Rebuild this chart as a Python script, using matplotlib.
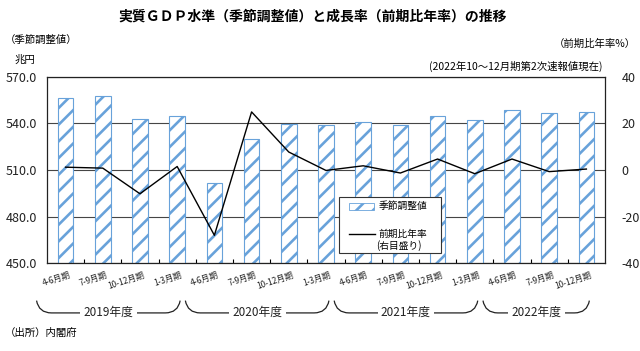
import matplotlib
matplotlib.use('Agg')
import matplotlib.pyplot as plt
import matplotlib.transforms as mtransforms
from matplotlib.patches import Rectangle, PathPatch
from matplotlib.path import Path
from matplotlib.lines import Line2D
import numpy as np

plt.rcParams['font.family'] = ['Noto Sans CJK JP', 'DejaVu Sans']
plt.rcParams['hatch.linewidth'] = 1.9
plt.rcParams['axes.unicode_minus'] = False

# ---- data ----
quarters = ['4-6月期', '7-9月期', '10-12月期', '1-3月期'] * 3 + ['4-6月期', '7-9月期', '10-12月期']
gdp_level = [556.1, 557.6, 542.8, 544.7, 501.5, 530.0, 539.4, 539.0,
             540.7, 539.0, 544.7, 542.0, 548.6, 546.5, 547.3]
growth_rate = [1.2, 0.8, -10.2, 1.5, -28.0, 24.9, 7.7, -0.2,
               1.8, -1.3, 4.7, -1.6, 4.7, -0.7, 0.4]
fiscal_years = ['2019年度', '2020年度', '2021年度', '2022年度']
fy_counts = [4, 4, 4, 3]
left_ticks = [450, 480, 510, 540, 570]
right_ticks = [-40, -20, 0, 20, 40]

BLUE = '#68a2da'

fig = plt.figure(figsize=(6.4, 3.51), dpi=100)
ax = fig.add_axes([0.0734, 0.2499, 0.8719, 0.5316])
x = np.arange(len(gdp_level))

ax.bar(x, gdp_level, width=0.42, color='white', edgecolor=BLUE,
       hatch='//', linewidth=0.8, zorder=2)
ax.set_xlim(-0.5, len(x) - 0.5)
ax.set_ylim(450, 570)
ax.set_yticks(left_ticks)
ax.set_yticklabels([f'{v:.1f}' for v in left_ticks])
ax.yaxis.grid(True, color='#454545', lw=0.8)
ax.set_axisbelow(True)
ax.tick_params(axis='y', length=0, pad=7, labelsize=9, colors='#222222')

ax.set_xticks(x)
ax.set_xticklabels(quarters, rotation=18, ha='right', va='top',
                   rotation_mode='anchor', fontsize=6, color='#222222')
ax.tick_params(axis='x', which='major', length=0, pad=5)
ax.set_xticks(np.arange(0.5, len(x) - 0.5, 1.0), minor=True)
ax.tick_params(axis='x', which='minor', direction='in', length=3, width=0.8)
off = mtransforms.ScaledTranslation(3 / 100, 0, fig.dpi_scale_trans)
for lab in ax.get_xticklabels():
    lab.set_transform(lab.get_transform() + off)

for s in ax.spines.values():
    s.set_color('#222222')
    s.set_linewidth(0.9)

ax2 = ax.twinx()
ax2.plot(x, growth_rate, color='black', lw=1.0, zorder=3)
ax2.set_ylim(-40, 40)
ax2.set_yticks(right_ticks)
ax2.set_yticklabels([str(v) for v in right_ticks])
ax2.tick_params(axis='y', length=0, pad=12, labelsize=9, colors='#222222')
for s in ax2.spines.values():
    s.set_visible(False)

# ---- legend (manual) ----
ax2.add_patch(Rectangle((0.524, 0.055), 0.182, 0.302, transform=ax2.transAxes,
                        facecolor='white', edgecolor='#333333', lw=0.8,
                        zorder=10, clip_on=False))
ax2.add_patch(Rectangle((0.541, 0.2855), 0.045, 0.0375, transform=ax2.transAxes,
                        facecolor='white', edgecolor=BLUE, hatch='//', lw=0.6,
                        zorder=11, clip_on=False))
ax2.add_line(Line2D([0.541, 0.588], [0.157, 0.157], transform=ax2.transAxes,
                    color='black', lw=1.0, zorder=11))
ax2.text(0.595, 0.307, '季節調整値', transform=ax2.transAxes, fontsize=7,
         va='center', ha='left', zorder=12)
ax2.text(0.595, 0.157, '前期比年率', transform=ax2.transAxes, fontsize=7,
         va='center', ha='left', zorder=12)
ax2.text(0.590, 0.093, '(右目盛り)', transform=ax2.transAxes, fontsize=7,
         va='center', ha='left', zorder=12)

# ---- fiscal-year braces ----
trans = mtransforms.blended_transform_factory(ax.transData, ax.transAxes)
y_top, y_line, dx = -0.20, -0.266, 0.40
start = 0
for fy, n in zip(fiscal_years, fy_counts):
    x0 = start - 0.78
    x1 = start + n - 1 + 0.08
    verts = [(x0, y_top), (x0 + dx * 0.15, y_line), (x0 + dx, y_line),
             (x1 - dx, y_line),
             (x1 - dx * 0.15, y_line), (x1, y_top)]
    codes = [Path.MOVETO, Path.CURVE3, Path.CURVE3, Path.LINETO,
             Path.CURVE3, Path.CURVE3]
    ax.add_patch(PathPatch(Path(verts, codes), transform=trans, fill=False,
                           lw=0.9, edgecolor='#222222', clip_on=False))
    ax.text((x0 + x1) / 2, -0.262, fy, transform=trans, ha='center', va='center',
            fontsize=8.5, color='#222222', clip_on=False,
            bbox=dict(facecolor='white', edgecolor='none', pad=2.5))
    start += n

# ---- header / footer texts ----
fig.text(0.489, 0.952, '実質ＧＤＰ水準（季節調整値）と成長率（前期比年率）の推移',
         ha='center', va='center', fontsize=10, fontweight='bold')
fig.text(0.008, 0.886, '（季節調整値）', ha='left', va='center', fontsize=7.5)
fig.text(0.039, 0.829, '兆円', ha='center', va='center', fontsize=7.5)
fig.text(0.994, 0.875, '（前期比年率%）', ha='right', va='center', fontsize=7.5)
fig.text(0.941, 0.812, '(2022年10～12月期第2次速報値現在)', ha='right', va='center',
         fontsize=7.5)
fig.text(0.008, 0.051, '（出所）内閣府', ha='left', va='center', fontsize=7.5)

fig.savefig('out.png', dpi=100, facecolor='white')
